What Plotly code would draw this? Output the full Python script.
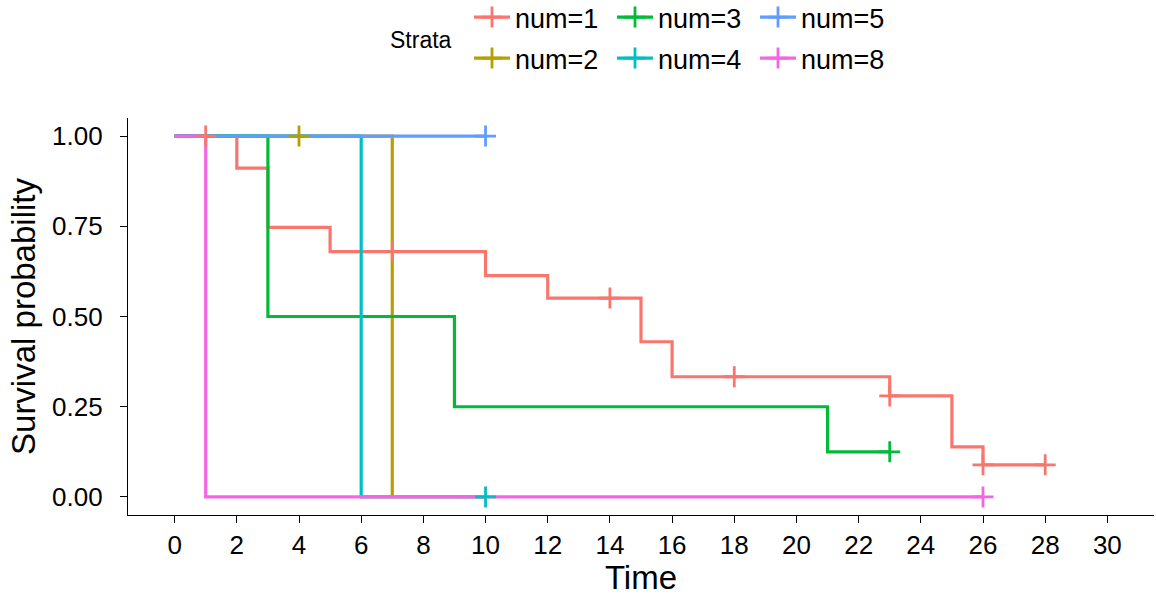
import plotly.graph_objects as go

# ---- data ----
strata = ["num=1", "num=2", "num=3", "num=4", "num=5", "num=8"]
colors = ["#F8766D", "#B79F00", "#00BA38", "#00BFC4", "#619CFF", "#F564E3"]

# step curves: time points and survival after each time
t1 = [0, 1, 2, 3, 5, 7, 10, 12, 14, 15, 16, 18, 23, 25, 26, 28]
s1 = [1.0, 1.0, 0.911, 0.747, 0.680, 0.680, 0.613, 0.551, 0.551, 0.430, 0.333, 0.333, 0.280, 0.139, 0.089, 0.089]
t2 = [0, 4, 7]
s2 = [1.0, 1.0, 0.0]
t3 = [0, 3, 9, 21, 23]
s3 = [1.0, 0.5, 0.25, 0.125, 0.125]
t4 = [0, 6, 10]
s4 = [1.0, 0.0, 0.0]
t5 = [0, 10]
s5 = [1.0, 1.0]
t8 = [0, 1, 26]
s8 = [1.0, 0.0, 0.0]

# censoring marks
c1_t = [1, 7, 14, 18, 23, 26, 28]
c1_s = [1.0, 0.680, 0.551, 0.333, 0.280, 0.089, 0.089]
c2_t = [4]
c2_s = [1.0]
c3_t = [23]
c3_s = [0.125]
c4_t = [10]
c4_s = [0.0]
c5_t = [10]
c5_s = [1.0]
c8_t = [26]
c8_s = [0.0]

curves = [(t1, s1), (t2, s2), (t3, s3), (t4, s4), (t5, s5), (t8, s8)]
censors = [(c1_t, c1_s), (c2_t, c2_s), (c3_t, c3_s), (c4_t, c4_s), (c5_t, c5_s), (c8_t, c8_s)]

x_ticks = list(range(0, 31, 2))
y_ticks = [0, 0.25, 0.5, 0.75, 1.0]
y_tick_labels = ["0.00", "0.25", "0.50", "0.75", "1.00"]

FONT = "Liberation Sans, Arial, sans-serif"

fig = go.Figure()

# legend layout: row 1 -> num=1, num=3, num=5 ; row 2 -> num=2, num=4, num=8
legend_of = {"num=1": "legend", "num=3": "legend", "num=5": "legend",
             "num=2": "legend2", "num=4": "legend2", "num=8": "legend2"}
legend_rank = {"num=1": 1, "num=3": 2, "num=5": 3, "num=2": 1, "num=4": 2, "num=8": 3}

for name, col, (t, s) in zip(strata, colors, curves):
    fig.add_trace(go.Scatter(
        x=t, y=s, mode="lines", line=dict(color=col, width=3.2, shape="hv"),
        name=name, showlegend=False, hoverinfo="skip"))

for name, col, (ct, cs) in zip(strata, colors, censors):
    fig.add_trace(go.Scatter(
        x=ct, y=cs, mode="markers",
        marker=dict(symbol="cross-thin", size=15, line=dict(color=col, width=2.8), color=col),
        name=name, showlegend=False, hoverinfo="skip"))

# legend entries (line + cross)
for name, col in zip(strata, colors):
    fig.add_trace(go.Scatter(
        x=[None], y=[None], mode="lines+markers",
        line=dict(color=col, width=3.2),
        marker=dict(symbol="cross-thin", size=15, line=dict(color=col, width=2.8), color=col),
        name=name, legend=legend_of[name], legendrank=legend_rank[name], showlegend=True))

pw = 1156 - 128 - 2
ph = 596 - 118 - 81

def leg(top_px):
    return dict(
        orientation="h", x=(469 - 128) / pw, xanchor="left",
        y=1 + (118 - top_px) / ph, yanchor="top",
        font=dict(size=27, color="black", family=FONT),
        entrywidth=92, entrywidthmode="pixels", itemwidth=36,
        bgcolor="rgba(0,0,0,0)", traceorder="normal",
    )

fig.update_layout(
    width=1156, height=596,
    margin=dict(l=128, r=2, t=118, b=81, autoexpand=False),
    paper_bgcolor="white", plot_bgcolor="white",
    font=dict(family=FONT, color="black"),
    showlegend=True,
    legend=leg(-7),
    legend2=leg(34),
    xaxis=dict(
        range=[-1.5, 31.5], tickmode="array", tickvals=x_ticks,
        ticks="outside", ticklen=7, tickwidth=1.2, tickcolor="black",
        showline=True, linecolor="black", linewidth=1.2,
        showgrid=False, zeroline=False,
        tickfont=dict(size=26, color="black", family=FONT),
        ticklabelstandoff=0,
        title=dict(text="Time", font=dict(size=33, color="black", family=FONT), standoff=11),
    ),
    yaxis=dict(
        range=[-0.05, 1.05], tickmode="array", tickvals=y_ticks, ticktext=y_tick_labels,
        ticks="outside", ticklen=7, tickwidth=1.2, tickcolor="black",
        showline=True, linecolor="black", linewidth=1.2,
        showgrid=False, zeroline=False,
        tickfont=dict(size=26, color="black", family=FONT),
        ticklabelstandoff=12,
        title=dict(text="Survival probability", font=dict(size=33, color="black", family=FONT), standoff=6),
    ),
    annotations=[dict(
        text="Strata", x=(388 - 128) / pw, y=(596 - 81 - 40) / ph, xref="paper", yref="paper",
        showarrow=False, font=dict(size=23, color="black", family=FONT),
        xanchor="left", yanchor="middle",
    )],
)

fig.write_html("out.html")
